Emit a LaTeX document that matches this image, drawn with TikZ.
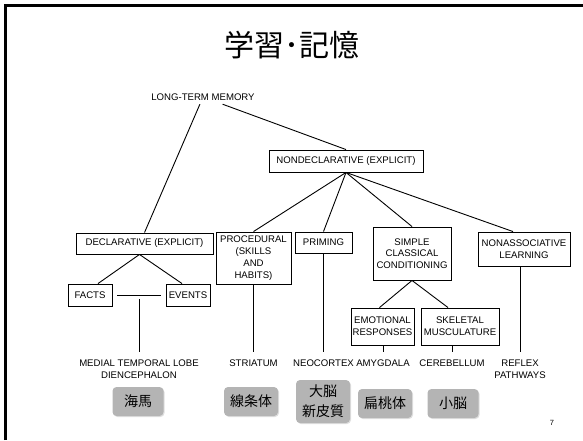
\documentclass[tikz,border=0pt]{standalone}
\usepackage{fontspec}
\setmainfont{Liberation Sans}
\newfontfamily\jpfont{Noto Sans CJK JP}
\usetikzlibrary{shadows}
\definecolor{jpgray}{RGB}{180,180,180}

\begin{document}
\begin{tikzpicture}[x=1pt, y=-1pt, line width=0.9pt,
	every node/.style={font=\fontsize{9.6}{11.8}\selectfont, align=center},
	box/.style={draw, inner sep=1pt},
	lbl/.style={inner xsep=2pt, inner ysep=7pt},
	jp/.style={fill=jpgray, rounded corners=4pt, inner xsep=6pt, minimum width=51pt, minimum height=29pt,
		font=\jpfont\fontsize{14}{20}\selectfont,
		drop shadow={shadow xshift=1pt, shadow yshift=-1pt, opacity=0.25}}]
	\useasboundingbox (0,0) rectangle (583,440);
	\draw[line width=3pt] (5.5,440) -- (5.5,5.5) -- (583,5.5);

	\node								(title)		at (292,45)		{\jpfont\fontsize{30}{30}\selectfont 学習･記憶};
	\node								(ltm)		at (203,97)		{LONG-TERM MEMORY};

	\node[box, minimum width=137pt, minimum height=21pt]	(decl)		at (144.5,243.5)	{DECLARATIVE (EXPLICIT)};
	\node[box, minimum width=154pt, minimum height=22pt]	(nondecl)	at (346,161)		{NONDECLARATIVE (EXPLICIT)};
	\node[box, minimum width=75pt, minimum height=52pt]		(proc)		at (253.5,258)		{PROCEDURAL\\(SKILLS\\AND\\HABITS)};
	\node[box, minimum width=57pt, minimum height=21pt]		(priming)	at (323.5,242.5)	{PRIMING};
	\node[box, minimum width=78pt, minimum height=53pt]		(simple)	at (412,253.5)		{SIMPLE\\CLASSICAL\\CONDITIONING};
	\node[box, minimum width=92pt, minimum height=34pt]		(nonassoc)	at (524,249)		{NONASSOCIATIVE\\LEARNING};
	\node[box, minimum width=44pt, minimum height=22pt]		(facts)		at (90,295)			{FACTS};
	\node[box, minimum width=44pt, minimum height=22pt]		(events)	at (188,295)		{EVENTS};
	\node[box, minimum width=63pt, minimum height=37pt]		(emot)		at (382.5,326.5)	{EMOTIONAL\\RESPONSES};
	\node[box, minimum width=78pt, minimum height=37pt]		(skel)		at (460,326.5)		{SKELETAL\\MUSCULATURE};

	\node[lbl]	(mtl)		at (139,369)	{MEDIAL TEMPORAL LOBE\\DIENCEPHALON};
	\node[lbl]	(striatum)	at (253.5,363)	{STRIATUM};
	\node[lbl]	(neocortex)	at (323.5,363)	{NEOCORTEX};
	\node[lbl]	(amygdala)	at (383,363)	{AMYGDALA};
	\node[lbl]	(cerebellum)	at (452,363)	{CEREBELLUM};
	\node[lbl]	(reflex)	at (520,369)	{REFLEX\\PATHWAYS};

	\node[jp]							(kaiba)		at (138,401.5)	{海馬};
	\node[jp]							(senjo)		at (251,401.5)	{線条体};
	\node[jp, minimum height=43pt]		(shinpi)	at (323,401.5)	{大脳\\新皮質};
	\node[jp]							(hento)		at (385,403.5)	{扁桃体};
	\node[jp]							(shono)		at (453,403.5)	{小脳};

	\node[font=\fontsize{7.5}{7.5}\selectfont]	(pagenum)	at (552,423)	{7};

	\coordinate	(join)	at (139,299);

	\path
	(ltm)		edge	(decl.north)
				edge	(nondecl.north)
	(nondecl.south)	edge	(proc.north)
				edge	(priming.north)
				edge	(simple.north)
				edge	([xshift=-11pt]nonassoc.north)
	([xshift=-5pt]decl.south)	edge	([xshift=8pt]facts.north)
				edge	([xshift=-6pt]events.north)
	(simple.south)	edge	([xshift=-3pt]emot.north)
				edge	([xshift=-12pt]skel.north)
	(facts)		edge[shorten <=5pt, shorten >=5pt]	(events)
	(join)		edge	(mtl.north)
	(proc.south)	edge	(striatum.north)
	(neocortex.north |- priming.south)	edge	(neocortex.north)
	(amygdala.north |- emot.south)	edge	(amygdala.north)
	(cerebellum.north |- skel.south)	edge	(cerebellum.north)
	(reflex.north |- nonassoc.south)	edge	(reflex.north);
\end{tikzpicture}
\end{document}
